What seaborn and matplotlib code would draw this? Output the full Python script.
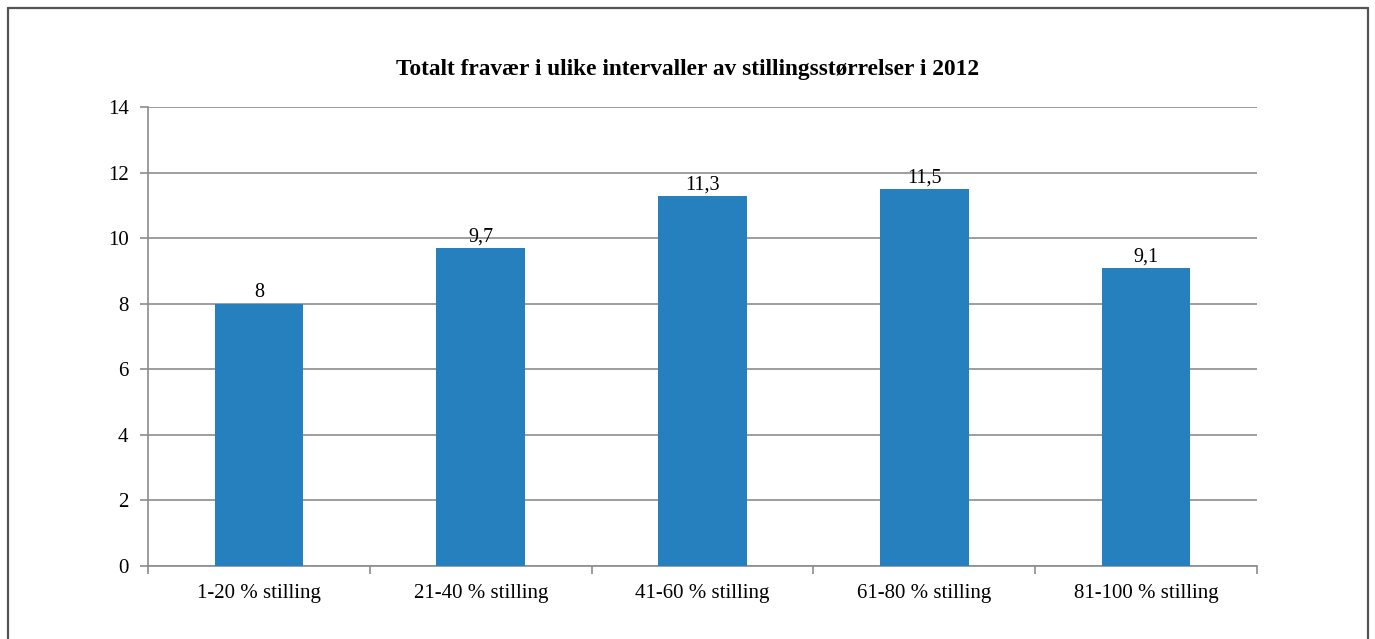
import matplotlib
matplotlib.use("Agg")
import matplotlib.pyplot as plt
from matplotlib.lines import Line2D
import seaborn as sns
import pandas as pd

# Data
categories = ["1-20 % stilling", "21-40 % stilling", "41-60 % stilling",
              "61-80 % stilling", "81-100 % stilling"]
values = [8, 9.7, 11.3, 11.5, 9.1]
title = "Totalt fravær i ulike intervaller av stillingsstørrelser i 2012"

df = pd.DataFrame({"kategori": categories, "fravaer": values})

sns.set_theme(style="white")
plt.rcParams["font.family"] = ["Liberation Serif", "DejaVu Serif"]
plt.rcParams["text.color"] = "black"

fig = plt.figure(figsize=(13.75, 6.39), dpi=100)
ax = fig.add_axes([148 / 1375, 73 / 639, 1109 / 1375, 459 / 639])

bar_color = "#2680BE"
sns.barplot(data=df, x="kategori", y="fravaer", color=bar_color, width=0.4,
            saturation=1, linewidth=0, ax=ax, zorder=3)

ax.set_ylim(0, 14)
ax.set_xlim(-0.5, len(categories) - 0.5)
ax.set_yticks(range(0, 15, 2))
ax.set_xlabel("")
ax.set_ylabel("")

grid_c = "#8C8C8C"
ax.yaxis.grid(True, color=grid_c, linewidth=1.2, zorder=0)
for side in ["top", "right"]:
    ax.spines[side].set_visible(False)
for side in ["left", "bottom"]:
    ax.spines[side].set_color(grid_c)
    ax.spines[side].set_linewidth(1.2)

# tick marks at category boundaries on the x axis
ax.set_xticks([i - 0.5 for i in range(len(categories) + 1)], minor=True)
ax.tick_params(axis="x", which="major", length=0, labelsize=15, pad=13,
               labelcolor="black")
ax.tick_params(axis="x", which="minor", length=6, width=1.2, color=grid_c, bottom=True)
ax.tick_params(axis="y", length=6, width=1.2, color=grid_c, labelsize=15, pad=8,
               left=True, labelcolor="black")

labels = [f"{v:g}".replace(".", ",") for v in values]
ax.bar_label(ax.containers[0], labels=labels, fontsize=14.5, padding=1, color="black")

fig.text(688 / 1375, 1 - 70 / 639, title, ha="center", va="center",
         fontsize=16.8, fontweight="bold", color="black")

# outer frame (open at the bottom edge)
fc = "#555555"
x0, x1, y1 = 7.5 / 1375, 1367.5 / 1375, 1 - 7.5 / 639
for xs, ys in [([x0, x0], [0, y1]), ([x0, x1], [y1, y1]), ([x1, x1], [0, y1])]:
    fig.add_artist(Line2D(xs, ys, transform=fig.transFigure, color=fc, linewidth=1.6))

fig.savefig("out.png", dpi=100, facecolor="white")
